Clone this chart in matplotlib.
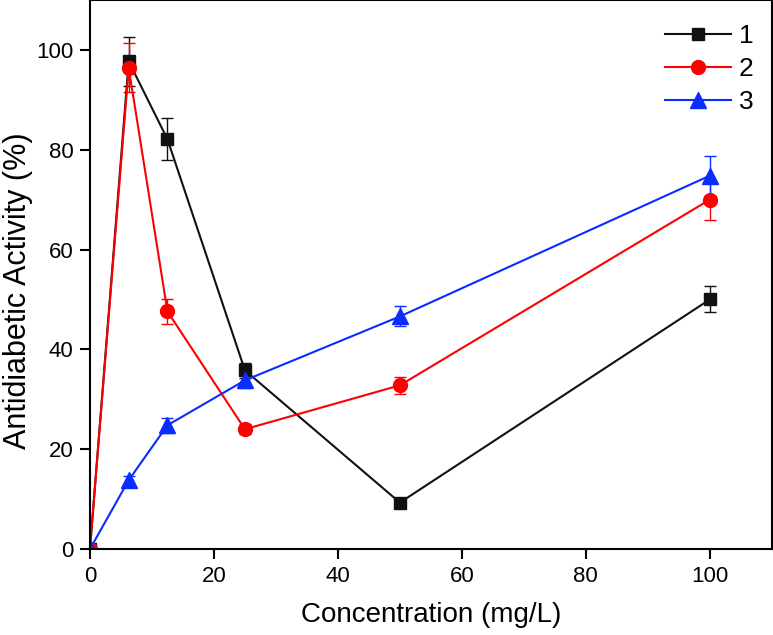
import matplotlib
matplotlib.use('Agg')
import matplotlib.pyplot as plt
from matplotlib.lines import Line2D

plt.rcParams['font.family'] = ['Liberation Sans', 'DejaVu Sans']

conc = [0, 6.25, 12.5, 25, 50, 100]

act_1 = [0, 97.7, 82.1, 35.8, 9.3, 50.0]
err_1 = [0, 4.9, 4.2, 1.5, 0.8, 2.6]

act_2 = [0, 96.4, 47.6, 24.0, 32.8, 70.0]
err_2 = [0, 4.9, 2.5, 1.0, 1.7, 4.0]

act_3 = [0, 13.8, 24.8, 33.8, 46.6, 74.8]
err_3 = [0, 0.8, 1.5, 1.5, 2.0, 4.0]

labels = ['1', '2', '3']

series = [
    (act_1, err_1, '#111111', 's', 9),
    (act_2, err_2, '#ff0000', 'o', 10),
    (act_3, err_3, '#0a2cff', '^', 11),
]

fig = plt.figure(figsize=(7.73, 6.35), dpi=100)
ax = fig.add_axes([0.1164, 0.1354, 0.882, 0.8646])

handles = []
for label, (y, e, c, m, ms) in zip(labels, series):
    ax.errorbar(conc, y, yerr=e, color=c, marker=m, markersize=ms, linewidth=1.5,
                ecolor=c, elinewidth=1, capsize=4.5, capthick=1)
    handles.append(Line2D([0], [0], color=c, marker=m, markersize=ms,
                          linewidth=1.5, label=label))

ax.set_xlim(0, 110)
ax.set_ylim(0, 110)
ax.set_xticks([0, 20, 40, 60, 80, 100])
ax.set_yticks([0, 20, 40, 60, 80, 100])
ax.tick_params(direction='out', length=7, width=1.5, labelsize=16, pad=5)
for spine in ax.spines.values():
    spine.set_linewidth(1.5)

ax.set_xlabel('Concentration (mg/L)', fontsize=20, labelpad=11)
ax.set_ylabel('Antidiabetic Activity (%)', fontsize=22)
ax.yaxis.set_label_coords(-0.083, 0.47)

ax.legend(handles=handles, loc='upper right', bbox_to_anchor=(1, 0.99),
          frameon=False, fontsize=19, handlelength=2.5, handletextpad=0.3,
          labelspacing=0.35, borderaxespad=0.3)

fig.savefig('out.png', dpi=100)
